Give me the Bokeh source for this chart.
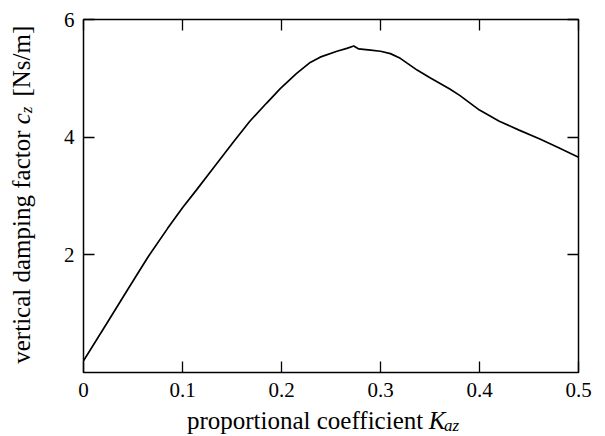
import math
from bokeh.plotting import figure
from bokeh.models import Label, LinearAxis, FixedTicker, Range1d
from bokeh.layouts import row, column
from bokeh.embed import file_html
from bokeh.resources import INLINE

# ---- data ----
kaz = [0.0, 0.023, 0.045, 0.065, 0.085, 0.1, 0.114, 0.13, 0.152, 0.168, 0.185,
       0.199, 0.215, 0.229, 0.239, 0.256, 0.266, 0.273, 0.278, 0.29, 0.30, 0.31,
       0.32, 0.337, 0.35, 0.37, 0.38, 0.40, 0.42, 0.44, 0.461, 0.48, 0.5]
cz = [0.2, 0.82, 1.42, 1.96, 2.45, 2.8, 3.1, 3.45, 3.93, 4.27, 4.58,
      4.83, 5.08, 5.27, 5.36, 5.46, 5.51, 5.55, 5.5, 5.48, 5.46, 5.42,
      5.34, 5.14, 5.01, 4.82, 4.71, 4.46, 4.27, 4.12, 3.97, 3.82, 3.66]

x_ticks = [0, 0.1, 0.2, 0.3, 0.4, 0.5]
x_tick_labels = ["0", "0.1", "0.2", "0.3", "0.4", "0.5"]
y_ticks = [2, 4, 6]
y_tick_labels = ["2", "4", "6"]

FONT = "Liberation Serif"
TICK_SIZE = "21px"
LAB = 25  # axis label font size (px)
SUB = 17  # subscript size (px)

LEFT_W, MAIN_W = 60, 545
MAIN_H, BOT_H = 404, 32

# ---------------- main plot ----------------
p = figure(width=MAIN_W, height=MAIN_H, output_backend="svg", toolbar_location=None,
           x_range=Range1d(0, 0.5), y_range=Range1d(0, 6),
           x_axis_type=None, y_axis_type=None,
           min_border_left=23, min_border_right=27,
           min_border_top=19, min_border_bottom=32)
p.outline_line_color = "black"
p.outline_line_width = 1.5
p.background_fill_color = "white"
p.border_fill_color = "white"


def make_axis(ticks, labels, show_labels, standoff):
    return LinearAxis(ticker=FixedTicker(ticks=ticks),
                      major_label_overrides={t: (l if show_labels else "") for t, l in zip(ticks, labels)},
                      axis_line_color=None,
                      major_tick_in=11, major_tick_out=0,
                      major_tick_line_width=1.3, major_tick_line_color="black",
                      minor_tick_line_color=None,
                      major_label_text_font=FONT,
                      major_label_text_color="black",
                      major_label_text_font_size=TICK_SIZE if show_labels else "1px",
                      major_label_standoff=standoff)


p.add_layout(make_axis(x_ticks, x_tick_labels, True, 10), "below")
p.add_layout(make_axis(y_ticks, y_tick_labels, True, 9), "left")
p.add_layout(make_axis(x_ticks, x_tick_labels, False, 0), "above")
p.add_layout(make_axis(y_ticks, y_tick_labels, False, 0), "right")

p.line(kaz, cz, line_color="black", line_width=1.7)


def strip(w, h):
    f = figure(width=w, height=h, output_backend="svg", toolbar_location=None,
               x_range=Range1d(0, w), y_range=Range1d(0, h),
               x_axis_type=None, y_axis_type=None, min_border=0)
    f.outline_line_color = None
    f.background_fill_color = "white"
    f.border_fill_color = "white"
    return f


def lab(f, x, y, text, size, italic=False, angle=0.0, align="left"):
    f.add_layout(Label(x=x, y=y, text=text, text_font=FONT,
                       text_font_style="italic" if italic else "normal",
                       text_font_size=f"{size}px", text_baseline="alphabetic",
                       text_align=align, text_color="black", angle=angle))


# ---------------- x axis label strip ----------------
bot = strip(MAIN_W, BOT_H)
xb = 16
xa = 434 - LEFT_W          # end of "proportional coefficient"
lab(bot, xa, xb, "proportional coefficient", LAB, align="right")
xk = xa + 0.25 * LAB
lab(bot, xk, xb, "K", LAB, italic=True)
lab(bot, xk + 0.667 * LAB, xb - 5, "az", SUB, italic=True)

# ---------------- y axis label strip ----------------
left = strip(LEFT_W, MAIN_H + BOT_H)
yb = 21
ya = 306                   # end of "vertical damping factor"
ang = math.pi / 2
lab(left, yb, ya, "vertical damping factor", LAB, angle=ang, align="right")
yc = ya + 0.25 * LAB
lab(left, yb, yc, "c", LAB, italic=True, angle=ang)
yz = yc + 0.444 * LAB
lab(left, yb + 5, yz, "z", SUB, italic=True, angle=ang)
lab(left, yb, yz + 0.389 * SUB + 0.4 * LAB, "[Ns/m]", LAB, angle=ang)

layout = row(left, column(p, bot, spacing=0), spacing=0)
open("out.html", "w").write(file_html(layout, INLINE))
